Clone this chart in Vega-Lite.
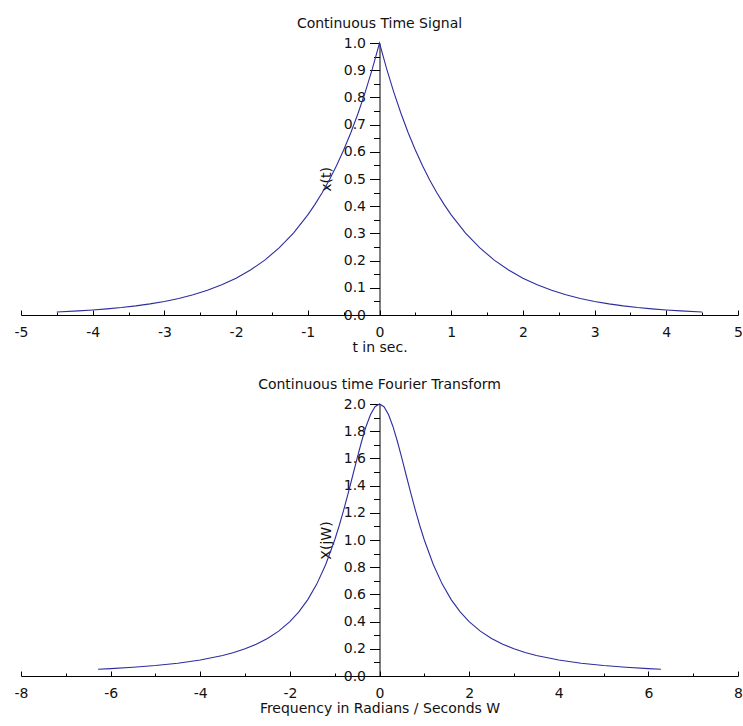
{
  "$schema": "https://vega.github.io/schema/vega-lite/v6.json",
  "background": "white",
  "padding": {"left": 14, "top": 17, "right": 5, "bottom": 5},
  "spacing": 24,
  "config": {
    "view": {"stroke": null},
    "font": "DejaVu Sans",
    "axis": {"labelFont": "DejaVu Sans", "labelFontSize": 14, "labelColor": "#111", "titleFont": "DejaVu Sans", "titleFontSize": 14, "titleFontWeight": "normal", "titleColor": "#111", "domainColor": "#000", "tickColor": "#000", "grid": false, "labelFlush": false, "labelOverlap": false},
    "title": {"font": "DejaVu Sans", "fontSize": 14, "fontWeight": "normal", "color": "#111", "anchor": "middle"}
  },
  "datasets": {
    "signal": [
      {"t": -4.5, "x": 0.0111}, {"t": -4.2, "x": 0.0150}, {"t": -4.0, "x": 0.0183}, {"t": -3.8, "x": 0.0224}, {"t": -3.6, "x": 0.0273}, {"t": -3.4, "x": 0.0334}, {"t": -3.2, "x": 0.0408}, {"t": -3.0, "x": 0.0498}, {"t": -2.8, "x": 0.0608}, {"t": -2.6, "x": 0.0743}, {"t": -2.4, "x": 0.0907}, {"t": -2.2, "x": 0.1108}, {"t": -2.0, "x": 0.1353}, {"t": -1.8, "x": 0.1653}, {"t": -1.6, "x": 0.2019}, {"t": -1.4, "x": 0.2466}, {"t": -1.2, "x": 0.3012}, {"t": -1.0, "x": 0.3679}, {"t": -0.9, "x": 0.4066}, {"t": -0.8, "x": 0.4493}, {"t": -0.7, "x": 0.4966}, {"t": -0.6, "x": 0.5488}, {"t": -0.5, "x": 0.6065}, {"t": -0.4, "x": 0.6703}, {"t": -0.3, "x": 0.7408}, {"t": -0.2, "x": 0.8187}, {"t": -0.1, "x": 0.9048}, {"t": 0, "x": 1.0},
      {"t": 0.1, "x": 0.9048}, {"t": 0.2, "x": 0.8187}, {"t": 0.3, "x": 0.7408}, {"t": 0.4, "x": 0.6703}, {"t": 0.5, "x": 0.6065}, {"t": 0.6, "x": 0.5488}, {"t": 0.7, "x": 0.4966}, {"t": 0.8, "x": 0.4493}, {"t": 0.9, "x": 0.4066}, {"t": 1.0, "x": 0.3679}, {"t": 1.2, "x": 0.3012}, {"t": 1.4, "x": 0.2466}, {"t": 1.6, "x": 0.2019}, {"t": 1.8, "x": 0.1653}, {"t": 2.0, "x": 0.1353}, {"t": 2.2, "x": 0.1108}, {"t": 2.4, "x": 0.0907}, {"t": 2.6, "x": 0.0743}, {"t": 2.8, "x": 0.0608}, {"t": 3.0, "x": 0.0498}, {"t": 3.2, "x": 0.0408}, {"t": 3.4, "x": 0.0334}, {"t": 3.6, "x": 0.0273}, {"t": 3.8, "x": 0.0224}, {"t": 4.0, "x": 0.0183}, {"t": 4.2, "x": 0.0150}, {"t": 4.5, "x": 0.0111}
    ],
    "ft": [
      {"w": -6.28, "X": 0.0495}, {"w": -6.0, "X": 0.0541}, {"w": -5.5, "X": 0.0640}, {"w": -5.0, "X": 0.0769}, {"w": -4.5, "X": 0.0941}, {"w": -4.0, "X": 0.1176}, {"w": -3.5, "X": 0.1509}, {"w": -3.25, "X": 0.1730}, {"w": -3.0, "X": 0.2}, {"w": -2.75, "X": 0.2336}, {"w": -2.5, "X": 0.2759}, {"w": -2.25, "X": 0.3299}, {"w": -2.0, "X": 0.4}, {"w": -1.8, "X": 0.4717}, {"w": -1.6, "X": 0.5618}, {"w": -1.4, "X": 0.6757}, {"w": -1.2, "X": 0.8197}, {"w": -1.0, "X": 1.0}, {"w": -0.9, "X": 1.1050}, {"w": -0.8, "X": 1.2195}, {"w": -0.7, "X": 1.3423}, {"w": -0.6, "X": 1.4706}, {"w": -0.5, "X": 1.6}, {"w": -0.4, "X": 1.7241}, {"w": -0.3, "X": 1.8349}, {"w": -0.2, "X": 1.9231}, {"w": -0.1, "X": 1.9802}, {"w": 0, "X": 2.0},
      {"w": 0.1, "X": 1.9802}, {"w": 0.2, "X": 1.9231}, {"w": 0.3, "X": 1.8349}, {"w": 0.4, "X": 1.7241}, {"w": 0.5, "X": 1.6}, {"w": 0.6, "X": 1.4706}, {"w": 0.7, "X": 1.3423}, {"w": 0.8, "X": 1.2195}, {"w": 0.9, "X": 1.1050}, {"w": 1.0, "X": 1.0}, {"w": 1.2, "X": 0.8197}, {"w": 1.4, "X": 0.6757}, {"w": 1.6, "X": 0.5618}, {"w": 1.8, "X": 0.4717}, {"w": 2.0, "X": 0.4}, {"w": 2.25, "X": 0.3299}, {"w": 2.5, "X": 0.2759}, {"w": 2.75, "X": 0.2336}, {"w": 3.0, "X": 0.2}, {"w": 3.25, "X": 0.1730}, {"w": 3.5, "X": 0.1509}, {"w": 4.0, "X": 0.1176}, {"w": 4.5, "X": 0.0941}, {"w": 5.0, "X": 0.0769}, {"w": 5.5, "X": 0.0640}, {"w": 6.0, "X": 0.0541}, {"w": 6.28, "X": 0.0495}
    ]
  },
  "vconcat": [
    {
      "title": {"text": "Continuous Time Signal", "offset": 5},
      "width": 717,
      "height": 272,
      "data": {"name": "signal"},
      "layer": [
        {
          "mark": {"type": "line", "color": "#2d2d9e", "strokeWidth": 1.1},
          "encoding": {
            "x": {"field": "t", "type": "quantitative", "scale": {"domain": [-5, 5], "nice": false},
                  "axis": {"orient": "bottom", "values": [-5, -4, -3, -2, -1, 0, 1, 2, 3, 4, 5], "labelExpr": "datum.value", "tickSize": -5, "labelPadding": 15, "title": "t in sec.", "titlePadding": 1}},
            "y": {"field": "x", "type": "quantitative", "scale": {"domain": [0, 1], "nice": false, "zero": false},
                  "axis": {"orient": "left", "offset": -358.5, "values": [0, 0.1, 0.2, 0.3, 0.4, 0.5, 0.6, 0.7, 0.8, 0.9, 1.0], "format": ".1f", "tickSize": 10, "labelPadding": 4, "title": "x(t)", "titlePadding": 10}}
          }
        },
        {
          "mark": {"type": "line", "opacity": 0},
          "encoding": {
            "x": {"field": "t", "type": "quantitative", "scale": {"domain": [-5, 5], "nice": false},
                  "axis": {"orient": "bottom", "values": [-4.5, -3.5, -2.5, -1.5, -0.5, 0.5, 1.5, 2.5, 3.5, 4.5], "tickSize": -3, "labels": false, "domain": false, "title": null}},
            "y": {"field": "x", "type": "quantitative", "scale": {"domain": [0, 1], "nice": false, "zero": false},
                  "axis": {"orient": "left", "offset": -358.5, "values": [0.05, 0.15, 0.25, 0.35, 0.45, 0.55, 0.65, 0.75, 0.85, 0.95], "tickSize": 6, "labels": false, "domain": false, "title": null}}
          }
        }
      ],
      "resolve": {"scale": {"x": "independent", "y": "independent"}}
    },
    {
      "title": {"text": "Continuous time Fourier Transform", "offset": 5},
      "width": 717,
      "height": 272,
      "data": {"name": "ft"},
      "layer": [
        {
          "mark": {"type": "line", "color": "#2d2d9e", "strokeWidth": 1.1},
          "encoding": {
            "x": {"field": "w", "type": "quantitative", "scale": {"domain": [-8, 8], "nice": false},
                  "axis": {"orient": "bottom", "values": [-8, -6, -4, -2, 0, 2, 4, 6, 8], "labelExpr": "datum.value", "tickSize": -5, "labelPadding": 15, "title": "Frequency in Radians / Seconds W", "titlePadding": 1}},
            "y": {"field": "X", "type": "quantitative", "scale": {"domain": [0, 2], "nice": false, "zero": false},
                  "axis": {"orient": "left", "offset": -358.5, "values": [0, 0.2, 0.4, 0.6, 0.8, 1.0, 1.2, 1.4, 1.6, 1.8, 2.0], "format": ".1f", "tickSize": 10, "labelPadding": 4, "title": "X(jW)", "titlePadding": 10}}
          }
        },
        {
          "mark": {"type": "line", "opacity": 0},
          "encoding": {
            "x": {"field": "w", "type": "quantitative", "scale": {"domain": [-8, 8], "nice": false},
                  "axis": {"orient": "bottom", "values": [-7, -5, -3, -1, 1, 3, 5, 7], "tickSize": -3, "labels": false, "domain": false, "title": null}},
            "y": {"field": "X", "type": "quantitative", "scale": {"domain": [0, 2], "nice": false, "zero": false},
                  "axis": {"orient": "left", "offset": -358.5, "values": [0.1, 0.3, 0.5, 0.7, 0.9, 1.1, 1.3, 1.5, 1.7, 1.9], "tickSize": 6, "labels": false, "domain": false, "title": null}}
          }
        }
      ],
      "resolve": {"scale": {"x": "independent", "y": "independent"}}
    }
  ]
}
